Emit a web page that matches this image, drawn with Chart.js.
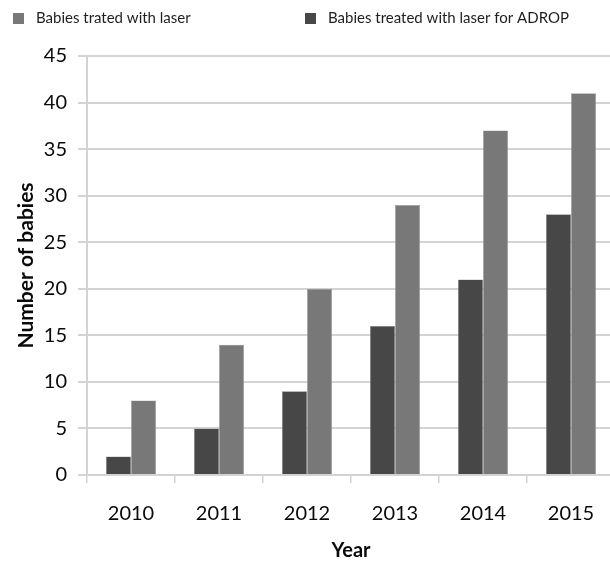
<!DOCTYPE html>
<html>
<head>
<meta charset="utf-8">
<script src="https://cdn.jsdelivr.net/npm/chart.js@4/dist/chart.umd.min.js"></script>
<style>
  html, body { margin: 0; padding: 0; background: #ffffff; overflow: hidden; }
  #wrap { position: relative; width: 620px; height: 563px; }
</style>
</head>
<body>
<div id="wrap"><canvas id="c" width="620" height="563"></canvas></div>
<script>
// Laser treatment counts per year
const years = ['2010', '2011', '2012', '2013', '2014', '2015'];
const treatedAdrop = [2, 5, 9, 16, 21, 28];
const treatedLaser = [8, 14, 20, 29, 37, 41];
const yTicks = [0, 5, 10, 15, 20, 25, 30, 35, 40, 45];

const FONT = 'Lato, "Open Sans", "DejaVu Sans", sans-serif';
const DARK = '#474747';
const LIGHT = '#787878';
const GRID = '#d3d3d3';

// Legend drawn as two items across the top, light series first
const topLegend = {
  id: 'topLegend',
  afterDraw(chart) {
    const ctx = chart.ctx;
    const ds = chart.data.datasets;
    const items = [
      { ds: ds[1], x: 13 },
      { ds: ds[0], x: 305 }
    ];
    ctx.save();
    ctx.font = '15px ' + FONT;
    ctx.textBaseline = 'middle';
    ctx.textAlign = 'left';
    items.forEach(it => {
      ctx.fillStyle = it.ds.backgroundColor;
      ctx.fillRect(it.x, 13, 11, 11);
      ctx.fillStyle = '#1e1e1e';
      ctx.fillText(it.ds.label, it.x + 23, 18.5);
    });
    ctx.restore();
  }
};

new Chart(document.getElementById('c'), {
  type: 'bar',
  data: {
    labels: years,
    datasets: [
      {
        label: 'Babies treated with laser for ADROP',
        data: treatedAdrop,
        backgroundColor: DARK,
        borderColor: '#8a8a8a',
        borderWidth: 0.6,
        categoryPercentage: 0.57,
        barPercentage: 1.0
      },
      {
        label: 'Babies trated with laser',
        data: treatedLaser,
        backgroundColor: LIGHT,
        borderColor: '#a0a0a0',
        borderWidth: 0.6,
        categoryPercentage: 0.57,
        barPercentage: 1.0
      }
    ]
  },
  options: {
    responsive: false,
    devicePixelRatio: 1,
    animation: false,
    layout: { padding: { top: 56, right: 5, bottom: 0, left: 0 } },
    plugins: {
      legend: { display: false },
      tooltip: { enabled: false }
    },
    scales: {
      x: {
        afterFit(scale) { scale.height = 88; },
        grid: {
          drawOnChartArea: false,
          drawTicks: true,
          tickLength: 8,
          color: GRID,
          lineWidth: 1.5
        },
        border: { display: true, color: GRID, width: 2 },
        ticks: {
          color: '#0a0a0a',
          padding: 19,
          font: { family: FONT, size: 20 }
        },
        title: {
          display: true,
          text: 'Year',
          color: '#0a0a0a',
          padding: { top: 0, bottom: 0 },
          font: { family: FONT, size: 20, weight: 'bold' }
        }
      },
      y: {
        min: 0,
        max: 45,
        afterFit(scale) { scale.width = 87; },
        afterBuildTicks(scale) { scale.ticks = yTicks.map(v => ({ value: v })); },
        grid: {
          drawTicks: true,
          tickLength: 9,
          color: GRID,
          lineWidth: 2
        },
        border: { display: true, color: GRID, width: 2 },
        ticks: {
          color: '#0a0a0a',
          padding: 11,
          font: { family: FONT, size: 20 }
        },
        title: {
          display: true,
          text: 'Number of babies',
          color: '#0a0a0a',
          padding: { top: 13.4, bottom: 0 },
          font: { family: FONT, size: 21, weight: 'bold' }
        }
      }
    }
  },
  plugins: [topLegend]
});
</script>
</body>
</html>
